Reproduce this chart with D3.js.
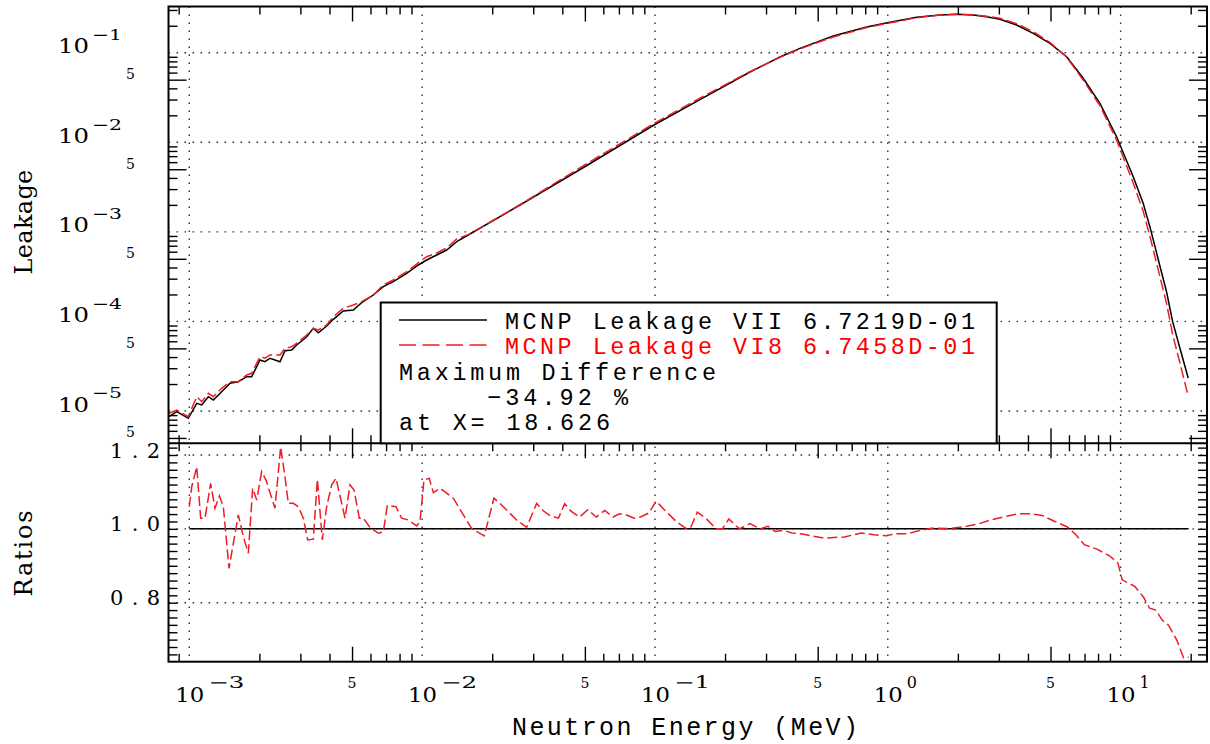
<!DOCTYPE html>
<html>
<head>
<meta charset="utf-8">
<script src="https://cdn.jsdelivr.net/npm/d3@7"></script>
<style>
  html, body { margin: 0; padding: 0; background: #fff; }
  svg { display: block; }
  text { font-family: "DejaVu Serif", "Liberation Serif", serif; fill: #000; }
  text.mono { font-family: "Liberation Mono", "DejaVu Sans Mono", monospace; }
</style>
</head>
<body>
<svg id="chart" width="1210" height="744"></svg>
<script>
// ---- data -------------------------------------------------------------
// neutron energy grid of the leakage tallies (MeV)
const energy = [
  8.18e-4, 8.83e-4, 9.90e-4, 1.076e-3, 1.131e-3, 1.207e-3, 1.268e-3, 1.377e-3, 1.496e-3,
  1.623e-3, 1.764e-3, 1.853e-3, 2.012e-3, 2.114e-3, 2.222e-3, 2.452e-3, 2.576e-3, 2.754e-3,
  2.892e-3, 3.193e-3, 3.409e-3, 3.581e-3, 3.891e-3, 4.154e-3, 4.585e-3, 5.062e-3, 5.501e-3,
  6.170e-3, 6.811e-3, 7.518e-3, 8.584e-3, 9.627e-3, 1.046e-2, 1.155e-2, 1.275e-2, 1.408e-2,
  1.605e-2, 2.632e-2, 5.054e-2, 9.90e-2, 0.156, 0.256, 0.344, 0.4195, 0.583, 0.811, 0.994,
  1.33, 1.674, 1.976, 2.328, 2.658, 3.031, 3.575, 4.213, 4.971, 5.864, 6.909, 8.152, 9.612,
  11.33, 12.50, 13.36, 14.75, 15.76, 16.72, 17.97, 19.51
];
// MCNP leakage, library VII (black solid)
const leakageVII = [
  8.64e-6, 9.82e-6, 8.29e-6, 1.219e-5, 1.167e-5, 1.444e-5, 1.327e-5, 1.642e-5, 2.038e-5,
  2.124e-5, 2.415e-5, 2.415e-5, 3.71e-5, 3.55e-5, 3.88e-5, 3.55e-5, 4.71e-5, 4.80e-5,
  5.46e-5, 6.75e-5, 8.38e-5, 7.48e-5, 8.89e-5, 1.056e-4, 1.307e-4, 1.341e-4, 1.618e-4,
  1.972e-4, 2.442e-4, 2.777e-4, 3.445e-4, 4.265e-4, 4.85e-4, 5.515e-4, 6.27e-4, 7.76e-4,
  9.46e-4, 1.994e-3, 5.434e-3, 1.559e-2, 3.0e-2, 6.09e-2, 8.95e-2, 0.1118, 0.1536, 0.1936, 0.2162,
  0.2484, 0.2636, 0.2684, 0.2636, 0.2523, 0.236, 0.2038, 0.1647, 0.1273, 9.02e-2, 5.178e-2, 2.723e-2, 1.154e-2,
  4.127e-3, 2.083e-3, 1.142e-3, 4.157e-4, 2.131e-4, 1.0e-4, 5.05e-5, 2.335e-5
];
// MCNP leakage, library VI8 (red dashed)
const leakageVI8 = [
  9.43e-6, 1.026e-5, 8.64e-6, 1.444e-5, 1.270e-5, 1.576e-5, 1.444e-5, 1.792e-5, 2.124e-5,
  2.124e-5, 2.523e-5, 2.636e-5, 4.04e-5, 3.88e-5, 4.22e-5, 4.22e-5, 5.01e-5, 5.22e-5,
  5.70e-5, 7.05e-5, 8.38e-5, 8.02e-5, 9.12e-5, 1.129e-4, 1.401e-4, 1.525e-4, 1.661e-4,
  1.972e-4, 2.551e-4, 2.90e-4, 3.59e-4, 4.52e-4, 5.28e-4, 5.81e-4, 6.60e-4, 8.32e-4,
  9.5e-4, 2.01e-3, 5.70e-3, 1.62e-2, 3.11e-2, 6.15e-2, 8.90e-2, 0.1101, 0.1500, 0.1907, 0.2123,
  0.2459, 0.2636, 0.2687, 0.2649, 0.2556, 0.2419, 0.2113, 0.1713, 0.1305, 8.93e-2, 4.94e-2, 2.56e-2, 1.056e-2,
  3.51e-3, 1.70e-3, 8.96e-4, 3.16e-4, 1.58e-4, 7.2e-5, 3.46e-5, 1.47e-5
];
// ratio VI8 / VII
const ratioEnergy = [
  1.000e-3, 1.024e-3, 1.076e-3, 1.119e-3, 1.168e-3, 1.235e-3, 1.289e-3, 1.346e-3, 1.400e-3, 1.481e-3,
  1.546e-3, 1.624e-3, 1.706e-3, 1.793e-3, 1.871e-3, 1.947e-3, 2.045e-3, 2.135e-3, 2.333e-3, 2.468e-3,
  2.576e-3, 2.662e-3, 2.797e-3, 2.939e-3, 3.088e-3, 3.223e-3, 3.410e-3, 3.548e-3, 3.727e-3, 3.890e-3,
  4.088e-3, 4.266e-3, 4.664e-3, 4.900e-3, 5.098e-3, 5.374e-3, 5.591e-3, 5.970e-3, 6.483e-3, 6.812e-3,
  7.087e-3, 7.722e-3, 8.166e-3, 8.722e-3, 9.473e-3, 9.79e-3, 1.018e-2, 1.073e-2, 1.117e-2, 1.193e-2,
  1.361e-2, 1.632e-2, 1.849e-2, 2.035e-2, 2.160e-2, 2.546e-2, 2.811e-2, 3.103e-2, 3.314e-2,
  3.541e-2, 3.849e-2, 4.096e-2, 4.360e-2, 4.740e-2, 5.150e-2, 5.597e-2, 6.084e-2, 6.613e-2, 7.037e-2,
  7.648e-2, 8.139e-2, 8.665e-2, 9.419e-2, 0.1011, 0.1112, 0.1234, 0.1369, 0.1427, 0.1519,
  0.1651, 0.1832, 0.1950, 0.2076, 0.2304, 0.2556, 0.2836, 0.3057, 0.3281, 0.3565,
  0.3876, 0.4299, 0.4771, 0.5294, 0.6518, 0.7698, 0.8722, 0.9881, 1.074, 1.217,
  1.378, 1.562, 1.845, 2.179, 2.469, 2.797, 3.235, 3.665, 4.068, 4.608,
  5.221, 5.915, 6.427, 6.987, 7.914, 8.967, 9.743, 10.16, 11.51, 12.51,
  13.31, 14.17, 15.08, 16.05, 17.45, 18.626, 19.60
];
const ratioValue = [
  1.060, 1.114, 1.168, 1.029, 1.029, 1.123, 1.056, 1.089, 1.060, 0.893,
  0.961, 1.038, 0.979, 0.934, 1.110, 1.078, 1.155, 1.132, 1.056, 1.222,
  1.141, 1.069, 1.069, 1.060, 1.029, 0.970, 0.972, 1.134, 0.970, 1.060,
  1.119, 1.137, 1.029, 1.119, 1.105, 1.029, 1.029, 1.004, 0.988, 0.992,
  1.063, 1.060, 1.029, 1.024, 1.008, 1.019, 1.132, 1.137, 1.098, 1.110,
  1.083, 1.001, 0.981, 1.083, 1.069, 1.024, 1.004, 1.069, 1.049,
  1.036, 1.029, 1.068, 1.048, 1.032, 1.052, 1.032, 1.050, 1.032, 1.041,
  1.036, 1.029, 1.032, 1.043, 1.075, 1.048, 1.020, 1.000, 1.005, 1.045,
  1.029, 1.000, 1.000, 1.027, 1.000, 1.014, 1.000, 1.007, 0.993, 0.996,
  0.989, 0.986, 0.980, 0.975, 0.978, 0.989, 0.984, 0.981, 0.987, 0.987,
  0.996, 1.002, 1.001, 1.007, 1.014, 1.025, 1.034, 1.041, 1.041, 1.036,
  1.020, 1.005, 0.984, 0.957, 0.945, 0.927, 0.907, 0.862, 0.844, 0.816,
  0.785, 0.780, 0.753, 0.739, 0.698, 0.6508, 0.652
];
// tick labels
const xDecades = [1e-3, 1e-2, 1e-1, 1, 10];
const xDecadeExp = ["\u22123", "\u22122", "\u22121", "0", "1"];
const xFives = [5e-3, 5e-2, 5e-1, 5];
const yDecades = [1e-1, 1e-2, 1e-3, 1e-4, 1e-5];
const yDecadeExp = ["\u22121", "\u22122", "\u22123", "\u22124", "\u22125"];
const yFives = [5e-2, 5e-3, 5e-4, 5e-5, 5e-6];
const ratioTicks = [1.2, 1.0, 0.8];
const ratioTickLabels = ["1.2", "1.0", "0.8"];
const seriesLabels = ["MCNP Leakage VII 6.7219D-01", "MCNP Leakage VI8 6.7458D-01"];
const noteLines = ["Maximum Difference", "\u221234.92 %", "at X= 18.626"];

// ---- layout -----------------------------------------------------------
const L = 168.5, R = 1207, T = 6.5, M = 443.3, B = 661.7;
const RED = "#ee1c24";
const svg = d3.select("#chart");

const x = d3.scaleLog().domain([8.14e-4, 23.5]).range([L, R]);
const yL = d3.scaleLog().domain([4.358e-6, 0.328]).range([M, T]);
const yR = d3.scaleLinear().domain([0.6402, 1.2317]).range([B, M]);

function logTicks(scale, fives) {
  const [a, b] = scale.domain();
  const out = [];
  for (let e = -7; e <= 2; e++) {
    for (let k = 2; k <= 9; k++) {
      const v = k * Math.pow(10, e);
      if (v >= a && v <= b && ((k === 5) === fives)) out.push(v);
    }
  }
  return out;
}

svg.append("rect").attr("width", 1210).attr("height", 744).attr("fill", "#fff");

// clip regions for both panels
const defs = svg.append("defs");
defs.append("clipPath").attr("id", "clipTop").append("rect")
  .attr("x", L).attr("y", T).attr("width", R - L).attr("height", M - T);
defs.append("clipPath").attr("id", "clipBot").append("rect")
  .attr("x", L).attr("y", M).attr("width", R - L).attr("height", B - M);

// ---- dotted grid ------------------------------------------------------
const grid = svg.append("g").attr("stroke", "#333").attr("stroke-width", 1.4)
  .attr("stroke-dasharray", "1.6,6.4").attr("fill", "none");
xDecades.forEach(v => {
  grid.append("line").attr("x1", x(v)).attr("x2", x(v)).attr("y1", T).attr("y2", B);
});
yDecades.forEach(v => {
  grid.append("line").attr("x1", L).attr("x2", R).attr("y1", yL(v)).attr("y2", yL(v));
});
ratioTicks.forEach(v => {
  grid.append("line").attr("x1", L).attr("x2", R).attr("y1", yR(v)).attr("y2", yR(v));
});

// ---- curves -----------------------------------------------------------
const lineTop = d3.line().x(d => x(d[0])).y(d => yL(d[1]));
const lineBot = d3.line().x(d => x(d[0])).y(d => yR(d[1]));
const vii = energy.map((e, i) => [e, leakageVII[i]]);
const vi8 = energy.map((e, i) => [e, leakageVI8[i]]);
const ratio = ratioEnergy.map((e, i) => [e, ratioValue[i]]);

const gTop = svg.append("g").attr("clip-path", "url(#clipTop)");
gTop.append("path").datum(vii).attr("d", lineTop)
  .attr("fill", "none").attr("stroke", "#000").attr("stroke-width", 1.5);
gTop.append("path").datum(vi8).attr("d", lineTop)
  .attr("fill", "none").attr("stroke", RED).attr("stroke-width", 1.5)
  .attr("stroke-dasharray", "11,4");

const gBot = svg.append("g").attr("clip-path", "url(#clipBot)");
const unity = [[ratioEnergy[0], 1], [ratioEnergy[ratioEnergy.length - 1], 1]];
gBot.append("path").datum(unity).attr("d", lineBot)
  .attr("fill", "none").attr("stroke", "#000").attr("stroke-width", 1.5);
gBot.append("path").datum(ratio).attr("d", lineBot)
  .attr("fill", "none").attr("stroke", RED).attr("stroke-width", 1.5)
  .attr("stroke-dasharray", "10,4");

// ---- tick marks (inward, all four sides of both panels) -----------------
function styleAxis(g) {
  g.select(".domain").remove();
  g.selectAll("line").attr("stroke", "#000").attr("stroke-width", 1.4);
  g.selectAll("text").remove();
}
const minorX = logTicks(x, false), majorX = logTicks(x, true);
[[T, "top"], [M, "bottom"], [M, "top"], [B, "bottom"]].forEach(([yy, side]) => {
  [[minorX, 8], [majorX, 15]].forEach(([vals, len]) => {
    const ax = (side === "top" ? d3.axisTop(x) : d3.axisBottom(x))
      .tickValues(vals).tickSize(-len).tickFormat("");
    svg.append("g").attr("transform", `translate(0,${yy})`).call(ax).call(styleAxis);
  });
});
const minorY = logTicks(yL, false), majorY = logTicks(yL, true);
[[L, "left"], [R, "right"]].forEach(([xx, side]) => {
  [[minorY, 9], [majorY, 18]].forEach(([vals, len]) => {
    const ax = (side === "left" ? d3.axisLeft(yL) : d3.axisRight(yL))
      .tickValues(vals).tickSize(-len).tickFormat("");
    svg.append("g").attr("transform", `translate(${xx},0)`).call(ax).call(styleAxis);
  });
  const rt = d3.range(33, 62).map(i => i / 50).filter(v => v > yR.domain()[0] && v < yR.domain()[1]);
  const axR = (side === "left" ? d3.axisLeft(yR) : d3.axisRight(yR))
    .tickValues(rt).tickSize(-9).tickFormat("");
  svg.append("g").attr("transform", `translate(${xx},0)`).call(axR).call(styleAxis);
});

// ---- frames -----------------------------------------------------------
svg.append("rect").attr("x", L).attr("y", T).attr("width", R - L).attr("height", B - T)
  .attr("fill", "none").attr("stroke", "#000").attr("stroke-width", 2);
svg.append("line").attr("x1", L).attr("x2", R).attr("y1", M).attr("y2", M)
  .attr("stroke", "#000").attr("stroke-width", 2);

// ---- tick labels ------------------------------------------------------
const labels = svg.append("g");
function fit(sel, len, mode) {
  return sel.attr("textLength", len).attr("lengthAdjust", mode || "spacingAndGlyphs");
}
yDecades.forEach((v, i) => {
  fit(labels.append("text").attr("x", 58).attr("y", yL(v) + 0.6)
    .attr("font-size", 20).text("10"), 31);
  fit(labels.append("text").attr("x", 92).attr("y", yL(v) - 12.5)
    .attr("font-size", 15).text(yDecadeExp[i]), 30);
});
yFives.forEach(v => {
  labels.append("text").attr("x", 126).attr("y", yL(v) - 0.5)
    .attr("font-size", 14).text("5");
});
ratioTicks.forEach((v, i) => {
  fit(labels.append("text").attr("x", 110).attr("y", yR(v) + 2.5)
    .attr("font-size", 21).text(ratioTickLabels[i]), 50, "spacing");
});
xDecades.forEach((v, i) => {
  fit(labels.append("text").attr("x", x(v) - 14).attr("y", 701.7)
    .attr("font-size", 20).text("10"), 29);
  const ex = labels.append("text").attr("x", x(v) + 19).attr("y", 688.3)
    .attr("font-size", 16).text(xDecadeExp[i]);
  if (xDecadeExp[i].length > 1) fit(ex, 36);
});
xFives.forEach(v => {
  labels.append("text").attr("x", x(v)).attr("y", 688)
    .attr("text-anchor", "middle").attr("font-size", 14).text("5");
});

// ---- axis titles ------------------------------------------------------
fit(svg.append("text").attr("class", "mono").attr("x", 512).attr("y", 735)
  .attr("font-size", 25).text("Neutron Energy (MeV)"), 346, "spacing");
svg.append("text").attr("transform", `translate(32,${(T + M) / 2 - 3}) rotate(-90)`)
  .attr("text-anchor", "middle").attr("font-size", 24).attr("letter-spacing", 0.3)
  .text("Leakage");
svg.append("text").attr("transform", `translate(32,${(M + B) / 2}) rotate(-90)`)
  .attr("text-anchor", "middle").attr("font-size", 24).attr("letter-spacing", 1.8)
  .text("Ratios");

// ---- legend box -------------------------------------------------------
const lg = svg.append("g");
lg.append("rect").attr("x", 380.7).attr("y", 302.5).attr("width", 616).attr("height", M - 302.5)
  .attr("fill", "#fff").attr("stroke", "#000").attr("stroke-width", 2);
lg.append("line").attr("x1", 399).attr("x2", 487).attr("y1", 320).attr("y2", 320)
  .attr("stroke", "#000").attr("stroke-width", 1.5);
lg.append("line").attr("x1", 399).attr("x2", 487).attr("y1", 345).attr("y2", 345)
  .attr("stroke", RED).attr("stroke-width", 1.5).attr("stroke-dasharray", "17,6.5");
function legendText(xx, yy, len, str) {
  return fit(lg.append("text").attr("class", "mono").attr("x", xx).attr("y", yy)
    .attr("font-size", 23.5).text(str), len, "spacing");
}
legendText(505, 328.5, 470, seriesLabels[0]);
legendText(505, 354, 470, seriesLabels[1]).style("fill", "#ff0000");
legendText(399, 379.5, 317, noteLines[0]);
legendText(487, 405, 141, noteLines[1]);
legendText(399, 430, 211, noteLines[2]);
</script>
</body>
</html>
